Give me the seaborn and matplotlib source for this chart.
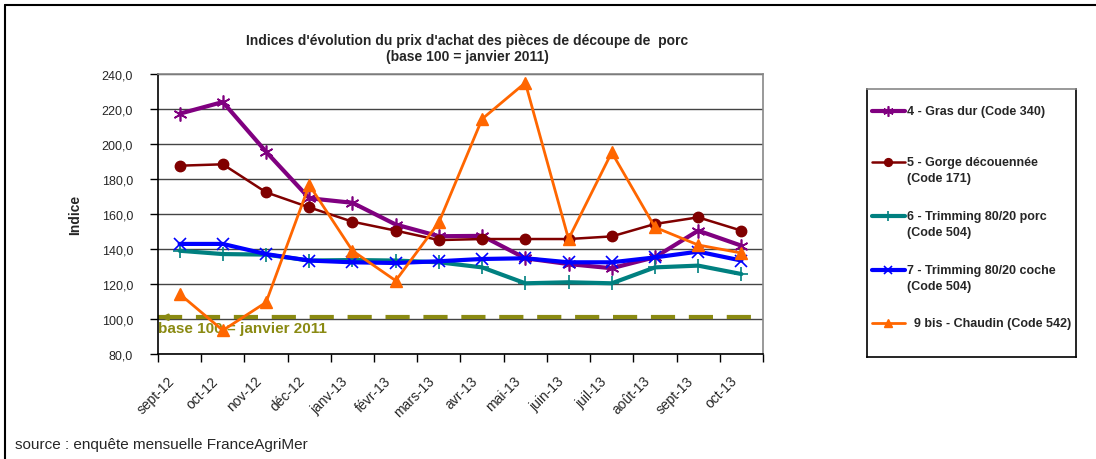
import numpy as np
import pandas as pd
import matplotlib
matplotlib.use("Agg")
import matplotlib.pyplot as plt
from matplotlib.lines import Line2D
from matplotlib.ticker import FuncFormatter, FixedLocator
from matplotlib.transforms import ScaledTranslation
import seaborn as sns

sns.set_style("white")
plt.rcParams['font.family'] = ['Liberation Sans', 'DejaVu Sans']

# ---------------- data ----------------
months = ["sept-12", "oct-12", "nov-12", "déc-12", "janv-13", "févr-13", "mars-13",
          "avr-13", "mai-13", "juin-13", "juil-13", "août-13", "sept-13", "oct-13"]

gras_dur = [217.3, 224.0, 195.6, 169.0, 166.4, 154.0, 147.3, 147.5, 134.7, 131.4, 129.0, 135.3, 150.5, 141.9]
gorge = [187.6, 188.4, 172.4, 163.8, 155.6, 150.5, 145.1, 145.7, 145.7, 145.7, 147.2, 154.3, 158.1, 150.5]
trim_porc = [139.0, 137.1, 136.8, 133.4, 133.7, 133.4, 132.4, 129.5, 120.4, 121.0, 120.4, 129.5, 130.5, 125.7]
trim_coche = [142.9, 142.9, 137.1, 133.4, 132.4, 132.0, 133.0, 134.3, 134.7, 132.4, 132.4, 135.2, 138.5, 133.4]
chaudin = [114.3, 93.5, 109.5, 176.6, 139.0, 121.9, 155.2, 214.3, 235.0, 145.7, 195.2, 152.4, 142.3, 137.7]

series_names = ["4 - Gras dur (Code 340)",
                "5 - Gorge découennée\n(Code 171)",
                "6 - Trimming 80/20 porc\n(Code 504)",
                "7 - Trimming 80/20 coche\n(Code 504)",
                "  9 bis - Chaudin (Code 542)"]
base_value = 101
base_label = "base 100 = janvier 2011"
title = "Indices d'évolution du prix d'achat des pièces de découpe de  porc\n(base 100 = janvier 2011)"
ylabel = "Indice"
source = "source : enquête mensuelle FranceAgriMer"

# ---------------- styles ----------------
olive = "#8a8a12"
styles = [
    dict(color="#800080", lw=3.0, marker=(6, 2, 0), ms=10, mew=1.2),
    dict(color="#800000", lw=1.8, marker="o", ms=7.5, mew=1.0),
    dict(color="#008080", lw=3.0, marker="+", ms=10, mew=1.2),
    dict(color="#0000ff", lw=3.0, marker="x", ms=8, mew=1.2),
    dict(color="#ff6600", lw=2.0, marker="^", ms=8.5, mew=1.0),
]
all_series = [gras_dur, gorge, trim_porc, trim_coche, chaudin]

W, H = 1096, 460
fig = plt.figure(figsize=(W / 100, H / 100), dpi=100)
fig.patch.set_facecolor("white")

L, R, T, B = 158, 763, 75, 355
ax = fig.add_axes([L / W, 1 - B / H, (R - L) / W, (B - T) / H])

x = np.arange(len(months))
ax.yaxis.grid(True, color="#444444", lw=1.0, zorder=0)
ax.set_axisbelow(True)

ax.axhline(base_value, color=olive, lw=3.0, dashes=(5.8, 3.3), zorder=1)
ax.annotate("", xy=(-0.5, base_value), xytext=(-0.15, base_value),
            arrowprops=dict(arrowstyle="-|>", color=olive, lw=1.8, mutation_scale=9), zorder=2)
ax.text(-0.5, base_value - 2.0, base_label, color=olive, fontsize=11, fontweight="bold",
        va="top", ha="left", zorder=2)

for vals, st in zip(all_series, styles):
    df = pd.DataFrame({"mois": x, "indice": vals})
    sns.lineplot(data=df, x="mois", y="indice", ax=ax, color=st["color"], lw=st["lw"],
                 marker=st["marker"], markersize=st["ms"], markeredgecolor=st["color"],
                 markerfacecolor=st["color"], markeredgewidth=st["mew"], legend=False,
                 sort=False, zorder=3)

ax.set_xlim(-0.5, len(months) - 0.5)
ax.set_ylim(80, 240)
ax.set_yticks(np.arange(80, 241, 20))
ax.yaxis.set_major_formatter(FuncFormatter(lambda v, p: f"{v:.1f}".replace(".", ",")))
ax.xaxis.set_major_locator(FixedLocator(np.arange(-0.5, len(months), 1.0)))
ax.xaxis.set_major_formatter(FuncFormatter(lambda v, p: ""))
ax.xaxis.set_minor_locator(FixedLocator(x))
ax.set_xticklabels(months, minor=True, rotation=45, ha="right", va="center",
                   rotation_mode="anchor", fontsize=10)
ax.tick_params(axis="x", which="major", direction="out", length=6, width=1, color="black", bottom=True)
ax.tick_params(axis="x", which="minor", length=0, pad=17.5)
ax.tick_params(axis="y", direction="out", length=6, width=1, color="black", left=True, labelsize=9, pad=12)
off = ScaledTranslation(-7.0 / 100, 0, fig.dpi_scale_trans)
for lbl in ax.get_xticklabels(minor=True):
    lbl.set_transform(lbl.get_transform() + off)
for lbl in ax.get_yticklabels():
    lbl.set_horizontalalignment("right")
ax.set_xlabel("")
ax.set_ylabel("")

for s in ["left", "bottom"]:
    ax.spines[s].set_color("black")
    ax.spines[s].set_linewidth(1.2)
for s in ["top", "right"]:
    ax.spines[s].set_color("#888888")
    ax.spines[s].set_linewidth(1.2)

fig.text(75 / W, 1 - 215 / H, ylabel, rotation=90, fontsize=10, fontweight="bold",
         ha="center", va="center")
fig.text(467 / W, 1 - 49 / H, title, fontsize=10, fontweight="bold", ha="center",
         va="center", linespacing=1.2)
fig.text(15 / W, 1 - 445 / H, source, fontsize=11, ha="left", va="center")

# outer frame (left and top edges visible)
fig.add_artist(Line2D([5 / W, 5 / W], [0, 1 - 6 / H], color="black", lw=1.5, transform=fig.transFigure))
fig.add_artist(Line2D([5 / W, 1], [1 - 6 / H, 1 - 6 / H], color="black", lw=1.5, transform=fig.transFigure))

# ---------------- legend ----------------
LX0, LX1, LY0, LY1 = 867, 1076, 90, 358
lax = fig.add_axes([LX0 / W, 1 - LY1 / H, (LX1 - LX0) / W, (LY1 - LY0) / H])
lax.set_xlim(LX0, LX1)
lax.set_ylim(LY1, LY0)
lax.set_xticks([])
lax.set_yticks([])
for s in lax.spines.values():
    s.set_color("black")
    s.set_linewidth(1.2)
lax.spines["top"].set_color("#888888")
entry_y = [112, 163, 217, 271, 324]
for name, st, yy in zip(series_names, styles, entry_y):
    lax.plot([872, 905], [yy, yy], color=st["color"], lw=st["lw"])
    lax.plot([888], [yy], marker=st["marker"], color=st["color"], ms=st["ms"] * 0.75,
             mec=st["color"], mfc=st["color"], mew=st["mew"])
    for k, line in enumerate(name.split("\n")):
        lax.text(907, yy + 16 * k, line, fontsize=9, fontweight="bold", ha="left",
                 va="center")

fig.savefig("out.png", dpi=100, facecolor="white")
